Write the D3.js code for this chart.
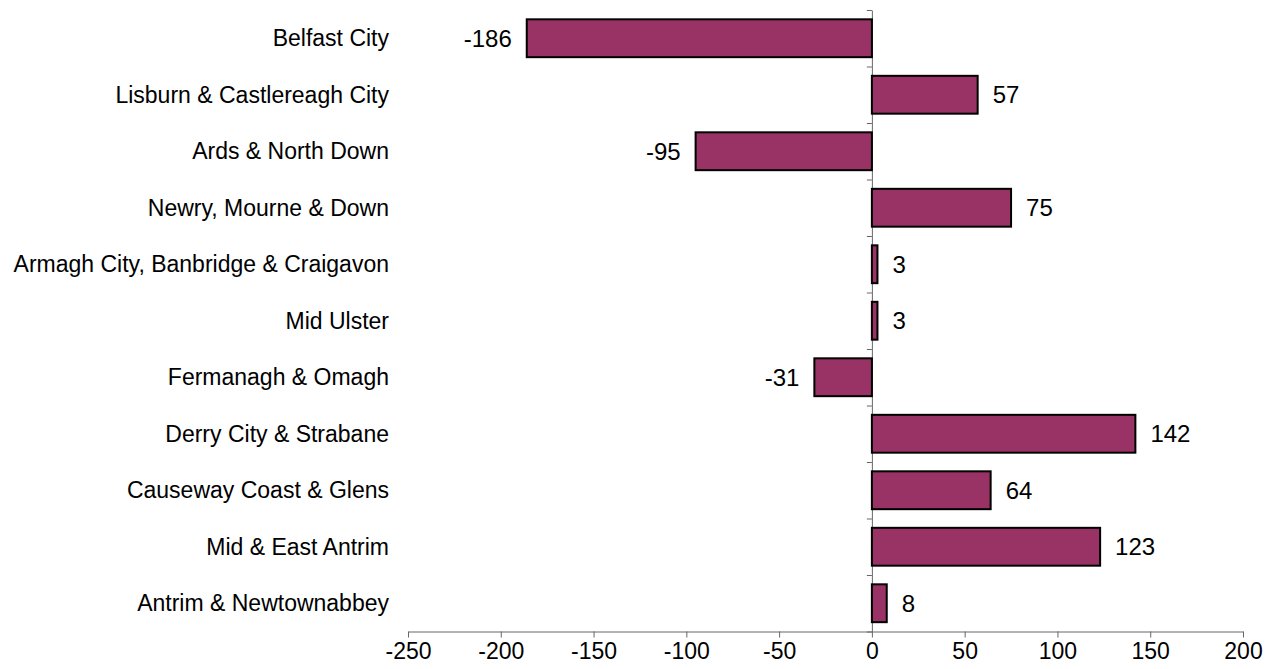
<!DOCTYPE html>
<html>
<head>
<meta charset="utf-8">
<script src="https://cdn.jsdelivr.net/npm/d3@7"></script>
<style>
  body { margin: 0; background: #fff; }
  text { font-family: "Liberation Sans", Arial, sans-serif; fill: #000; }
</style>
</head>
<body>
<svg id="chart"></svg>
<script>
const councils = ['Belfast City', 'Lisburn & Castlereagh City', 'Ards & North Down',
  'Newry, Mourne & Down', 'Armagh City, Banbridge & Craigavon', 'Mid Ulster',
  'Fermanagh & Omagh', 'Derry City & Strabane', 'Causeway Coast & Glens',
  'Mid & East Antrim', 'Antrim & Newtownabbey'];
const change = [-186, 57, -95, 75, 3, 3, -31, 142, 64, 123, 8];
const xTicks = [-250, -200, -150, -100, -50, 0, 50, 100, 150, 200];

const width = 1273, height = 669;
const plotLeft = 408, plotRight = 1243, plotTop = 10, plotBottom = 631.5;

const svg = d3.select('#chart')
  .attr('width', width)
  .attr('height', height);

const xScale = d3.scaleLinear()
  .domain([-250, 200])
  .range([plotLeft, plotRight]);

const yScale = d3.scaleBand()
  .domain(councils)
  .range([plotTop, plotBottom])
  .paddingInner(0.33)
  .paddingOuter(0.165);

// x axis, plain hyphen for negatives like the original
const xAxis = svg.append('g')
  .attr('transform', `translate(0, ${plotBottom})`)
  .call(d3.axisBottom(xScale).tickValues(xTicks).tickFormat(d => String(d))
    .tickSize(6).tickSizeOuter(0).tickPadding(5));
xAxis.select('.domain').attr('stroke', '#666');
xAxis.selectAll('.tick line').attr('stroke', '#666');
xAxis.selectAll('.tick text')
  .attr('font-size', 23)
  .attr('font-family', '"Liberation Sans", Arial, sans-serif')
  .attr('fill', '#000');

// y axis at zero with band boundary ticks
const idx = d3.scaleLinear().domain([0, councils.length]).range([plotTop, plotBottom]);
const yAxis = svg.append('g')
  .attr('transform', `translate(${xScale(0)}, 0)`)
  .call(d3.axisLeft(idx).tickValues(d3.range(councils.length + 1)).tickFormat('').tickSize(5).tickSizeOuter(0));
yAxis.select('.domain').attr('stroke', '#666');
yAxis.selectAll('.tick line').attr('stroke', '#666');

// category labels
svg.selectAll('.cat')
  .data(councils)
  .enter()
  .append('text')
  .attr('class', 'cat')
  .attr('x', 389)
  .attr('y', d => yScale(d) + yScale.bandwidth() / 2)
  .attr('dy', '0.35em')
  .attr('text-anchor', 'end')
  .attr('font-size', 23)
  .text(d => d);

// bars
svg.selectAll('.bar')
  .data(change)
  .enter()
  .append('rect')
  .attr('class', 'bar')
  .attr('x', d => xScale(Math.min(0, d)))
  .attr('y', (d, i) => yScale(councils[i]))
  .attr('width', d => Math.abs(xScale(d) - xScale(0)))
  .attr('height', yScale.bandwidth())
  .attr('fill', '#993366')
  .attr('stroke', '#000')
  .attr('stroke-width', 2);

// value labels
svg.selectAll('.val')
  .data(change)
  .enter()
  .append('text')
  .attr('class', 'val')
  .attr('x', d => d < 0 ? xScale(d) - 15 : xScale(d) + 15)
  .attr('y', (d, i) => yScale(councils[i]) + yScale.bandwidth() / 2)
  .attr('dy', '0.35em')
  .attr('text-anchor', d => d < 0 ? 'end' : 'start')
  .attr('font-size', 24)
  .text(d => d);
</script>
</body>
</html>
